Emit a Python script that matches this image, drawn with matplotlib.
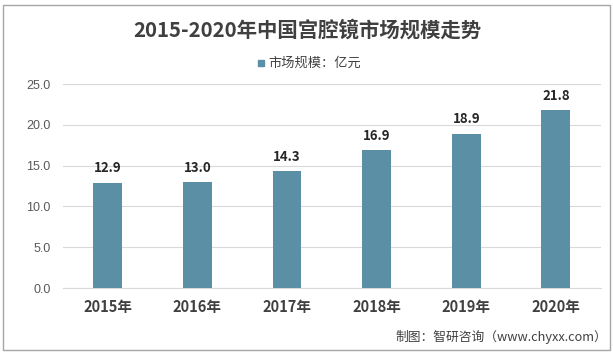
import numpy as np
import matplotlib
matplotlib.use('Agg')
import matplotlib.pyplot as plt
from matplotlib.patches import Rectangle

plt.rcParams['font.family'] = ['Noto Sans CJK SC', 'DejaVu Sans']

# data
years = ['2015年', '2016年', '2017年', '2018年', '2019年', '2020年']
market_size = [12.9, 13.0, 14.3, 16.9, 18.9, 21.8]
y_ticks = [0, 5, 10, 15, 20, 25]

bar_color = '#5b8fa6'

fig = plt.figure(figsize=(6.13, 3.55), dpi=100)
ax = fig.add_axes([0.1028, 0.1887, 0.877, 0.5746])

x = np.arange(len(years))
bars = ax.bar(x, market_size, width=0.32, color=bar_color, zorder=3)

# value labels above bars
for xi, v in zip(x, market_size):
    ax.text(xi, v + 0.9, '%.1f' % v, ha='center', va='bottom',
            fontsize=9.5, fontweight='bold', color='#262626')

ax.set_xlim(-0.5, len(years) - 0.5)
ax.set_ylim(0, 25)
ax.set_yticks(y_ticks)
ax.set_yticklabels(['%.1f' % t for t in y_ticks], fontsize=9, color='#595959',
                   family=['Liberation Sans'])
ax.set_xticks(x)
ax.set_xticklabels(years, fontsize=10.5, fontweight='bold', color='#404040')
ax.tick_params(axis='both', length=0)
ax.tick_params(axis='y', pad=9)
ax.tick_params(axis='x', pad=8)
ax.grid(axis='y', color='#d9d9d9', linewidth=0.8, zorder=0)
for s in ['top', 'right', 'left']:
    ax.spines[s].set_visible(False)
ax.spines['bottom'].set_color('#d9d9d9')

# title, legend, source
fig.text(0.502, 0.915, '2015-2020年中国宫腔镜市场规模走势', ha='center', va='center',
         fontsize=14.7, fontweight='bold', color='#404040')
fig.patches.append(Rectangle((0.421, 0.814), 0.0098, 0.017, transform=fig.transFigure,
                             color=bar_color))
fig.text(0.438, 0.822, '市场规模：亿元', ha='left', va='center', fontsize=9.5,
         color='#404040')
fig.text(0.99, 0.05, '制图：智研咨询（www.chyxx.com）', ha='right', va='center',
         fontsize=9.2, color='#404040')

# outer border
fig.patches.append(Rectangle((0.005, 0.014), 0.99, 0.972, transform=fig.transFigure,
                             fill=False, edgecolor='#a6a6a6', linewidth=1))

fig.savefig('out.png', dpi=100)
